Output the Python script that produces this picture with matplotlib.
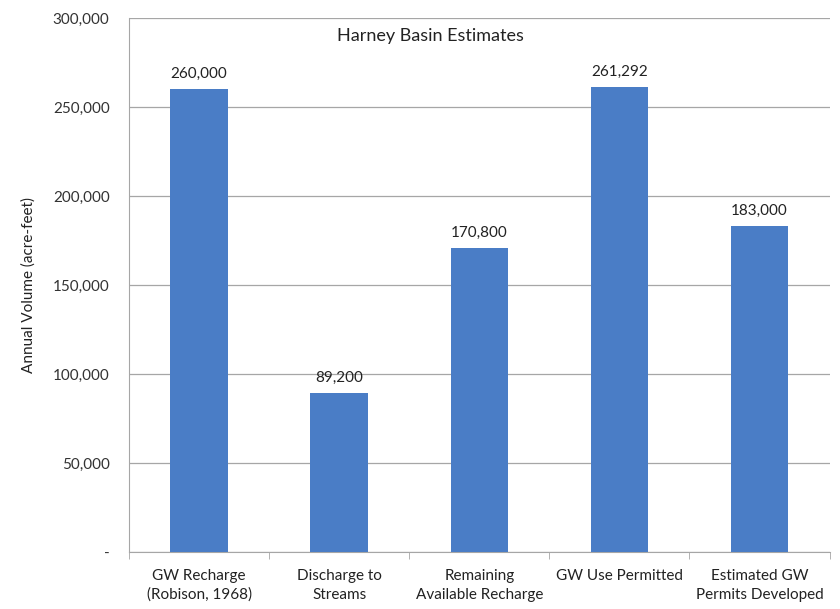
import numpy as np
import matplotlib
matplotlib.use("Agg")
import matplotlib.pyplot as plt
from matplotlib.ticker import FuncFormatter, FixedLocator

plt.rcParams['font.family'] = ['Lato', 'DejaVu Sans']

categories = ["GW Recharge\n(Robison, 1968)", "Discharge to\nStreams",
              "Remaining\nAvailable Recharge", "GW Use Permitted",
              "Estimated GW\nPermits Developed"]
volumes = [260000, 89200, 170800, 261292, 183000]
yticks = [0, 50000, 100000, 150000, 200000, 250000, 300000]

bar_color = "#4a7dc6"
grid_color = "#a6a6a6"

fig = plt.figure(figsize=(8.4, 6.09), dpi=100)
ax = fig.add_axes([0.1536, 0.0936, 0.834, 0.8768])

x = np.arange(len(categories))
bars = ax.bar(x, volumes, width=0.41, color=bar_color, zorder=3)

for xi, v in zip(x, volumes):
    ax.text(xi, v + 4500, f"{v:,}", ha="center", va="bottom", fontsize=11, color="#222222")

ax.set_xlim(-0.5, len(categories) - 0.5)
ax.set_ylim(0, 300000)
ax.set_yticks(yticks)
ax.yaxis.set_major_formatter(FuncFormatter(lambda v, p: "-" if v == 0 else f"{int(v):,}"))
ax.yaxis.grid(True, color=grid_color, linewidth=0.9, zorder=0)
ax.tick_params(axis="y", length=0, pad=14, labelsize=11, labelcolor="#333333")

ax.set_xticks(x)
ax.set_xticklabels(categories, fontsize=11, color="#222222", linespacing=1.45)
ax.xaxis.set_minor_locator(FixedLocator(np.arange(len(categories) + 1) - 0.5))
ax.tick_params(axis="x", which="major", length=0, pad=12)
ax.tick_params(axis="x", which="minor", length=5, color=grid_color)

for s in ["top", "right"]:
    ax.spines[s].set_visible(False)
ax.spines["left"].set_color(grid_color)
ax.spines["bottom"].set_color(grid_color)

ax.set_ylabel("Annual Volume (acre-feet)", fontsize=11, color="#222222", labelpad=12)
ax.text(0.43, 0.982, "Harney Basin Estimates", transform=ax.transAxes,
        ha="center", va="top", fontsize=13, color="#222222")

fig.savefig("out.png", dpi=100)
